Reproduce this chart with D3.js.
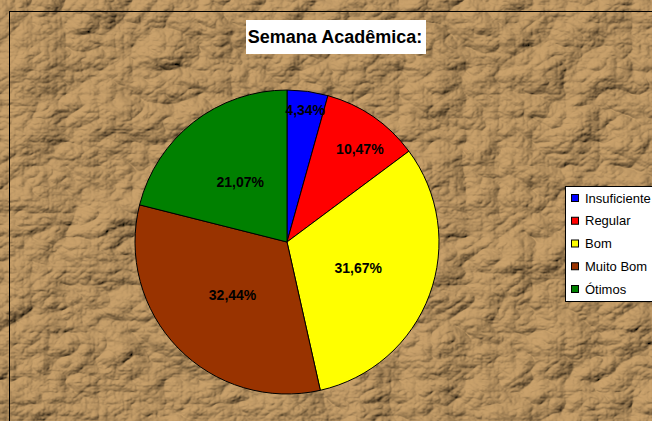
<!DOCTYPE html>
<html>
<head>
<meta charset="utf-8">
<script src="https://cdn.jsdelivr.net/npm/d3@7"></script>
<style>
  html, body { margin: 0; padding: 0; background: #fff; }
  svg { display: block; font-family: "Liberation Sans", Arial, sans-serif; }
</style>
</head>
<body>
<svg id="chart" width="652" height="421"></svg>
<script>
const title = "Semana Acadêmica:";
const categories = ["Insuficiente", "Regular", "Bom", "Muito Bom", "Ótimos"];
const values = [4.34, 10.47, 31.67, 32.44, 21.07];
const labels = ["4,34%", "10,47%", "31,67%", "32,44%", "21,07%"];
const colors = ["#0000FF", "#FF0000", "#FFFF00", "#993300", "#008000"];

const svg = d3.select("#chart");
const W = 652, H = 421;

// crumpled paper texture
const defs = svg.append("defs");
const f = defs.append("filter").attr("id", "paper")
  .attr("x", 0).attr("y", 0).attr("width", W).attr("height", H)
  .attr("filterUnits", "userSpaceOnUse");
f.append("feTurbulence").attr("type", "turbulence")
  .attr("baseFrequency", "0.015 0.021").attr("numOctaves", 5).attr("seed", 11).attr("result", "noise");
f.append("feGaussianBlur").attr("in", "noise").attr("stdDeviation", 0.7).attr("result", "soft");
const light = f.append("feDiffuseLighting").attr("in", "soft")
  .attr("lighting-color", "#caa26c").attr("surfaceScale", 9).attr("diffuseConstant", 1.0)
  .attr("result", "lit");
light.append("feDistantLight").attr("azimuth", 225).attr("elevation", 50);

// plot frame
svg.append("rect").attr("x", 9.5).attr("y", 11.5).attr("width", W).attr("height", H)
  .attr("fill", "#b59770").attr("filter", "url(#paper)");
svg.append("rect").attr("x", 9.5).attr("y", 11.5).attr("width", W).attr("height", H)
  .attr("fill", "none").attr("stroke", "#000").attr("stroke-width", 1);

// title
const tg = svg.append("g");
tg.append("rect").attr("x", 246).attr("y", 20).attr("width", 180).attr("height", 34).attr("fill", "#fff");
tg.append("text").attr("x", 335).attr("y", 43).attr("text-anchor", "middle")
  .attr("font-size", 18).attr("font-weight", "bold").text(title);

// pie
const cx = 287, cy = 242, R = 152;
const data = categories.map((c, i) => ({ cat: c, value: values[i], label: labels[i], color: colors[i] }));
const pie = d3.pie().value(d => d.value).sort(null);
const arcs = pie(data);
const arc = d3.arc().innerRadius(0).outerRadius(R);
const g = svg.append("g").attr("transform", `translate(${cx},${cy})`);
g.selectAll("path").data(arcs).join("path")
  .attr("d", arc).attr("fill", d => d.data.color)
  .attr("stroke", "#000").attr("stroke-width", 1).attr("stroke-linejoin", "round");

const total = d3.sum(values);
function labelR(d) {
  const share = d.data.value / total;
  if (share < 0.06) return R * 0.88;
  if (share < 0.15) return R * 0.78;
  return R * 0.5;
}
function labelA(d) {
  const share = d.data.value / total;
  const a = (d.startAngle + d.endAngle) / 2;
  return share < 0.15 && share >= 0.06 ? a + 0.06 : a;
}
g.selectAll("text").data(arcs).join("text")
  .attr("transform", d => {
    const a = labelA(d);
    const r = labelR(d);
    return `translate(${Math.sin(a) * r},${-Math.cos(a) * r})`;
  })
  .attr("text-anchor", "middle").attr("dy", "0.36em")
  .attr("font-size", 14).attr("font-weight", "bold").attr("fill", "#000")
  .text(d => d.data.label);

// legend
const lg = svg.append("g");
lg.append("rect").attr("x", 565.5).attr("y", 186.5).attr("width", 120).attr("height", 115)
  .attr("fill", "#fff").attr("stroke", "#000");
const rowY = d3.scalePoint().domain(categories).range([198, 289]);
const items = lg.selectAll("g.item").data(data).join("g").attr("class", "item")
  .attr("transform", d => `translate(0,${rowY(d.cat)})`);
items.append("rect").attr("x", 571.5).attr("y", -3.5).attr("width", 7).attr("height", 7)
  .attr("fill", d => d.color).attr("stroke", "#000");
items.append("text").attr("x", 585).attr("y", 0).attr("dy", "0.36em")
  .attr("font-size", 13).attr("fill", "#000").text(d => d.cat);
</script>
</body>
</html>
